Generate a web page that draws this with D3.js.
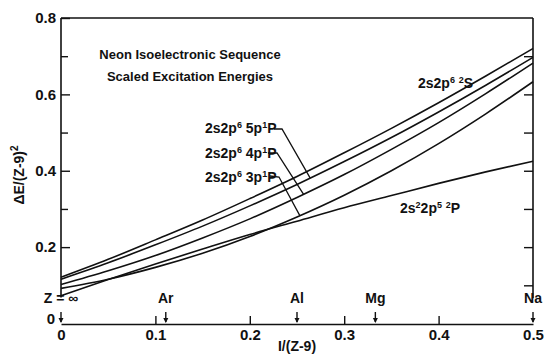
<!DOCTYPE html>
<html><head><meta charset="utf-8">
<script src="https://cdn.jsdelivr.net/npm/d3@7"></script>
<style>
body{margin:0;background:#fff}
text{font-family:"Liberation Sans","Arial",sans-serif;font-weight:bold;fill:#111}
</style></head>
<body><svg id="c" width="544" height="362"></svg>
<script>
// ---- data ----
const xGrid = [0, 0.05, 0.1, 0.15, 0.2, 0.25, 0.3, 0.35, 0.4, 0.45, 0.5];
const s2S = [0.121, 0.168, 0.219, 0.271, 0.327, 0.385, 0.447, 0.511, 0.578, 0.648, 0.720];
const p5  = [0.116, 0.159, 0.206, 0.255, 0.308, 0.364, 0.424, 0.487, 0.554, 0.624, 0.697];
const p4  = [0.102, 0.138, 0.178, 0.224, 0.274, 0.330, 0.390, 0.456, 0.526, 0.602, 0.682];
const p3  = [0.092, 0.116, 0.147, 0.184, 0.228, 0.279, 0.336, 0.400, 0.471, 0.549, 0.633];
const P2  = [0.073, 0.115, 0.156, 0.195, 0.233, 0.268, 0.303, 0.335, 0.367, 0.397, 0.425];
const xTickValues = [0, 0.1, 0.2, 0.3, 0.4, 0.5];
const yMajor = [0.2, 0.4, 0.6, 0.8];
const yMinor = [0.3, 0.5, 0.7];
const yRightTicks = [0.1, 0.2, 0.3, 0.4, 0.5, 0.6, 0.7];
const elements = ["Z = \u221E", "Ar", "Al", "Mg", "Na"];
const elementX = [0, 0.111, 0.25, 0.333, 0.5];

const svg = d3.select("#c");
const x = d3.scaleLinear([0, 0.5], [61, 533]);
const y = d3.scaleLinear([0, 0.8], [323.5, 18]);
const axisY = 324;

// frame lines
svg.append("line").attr("x1", x(0)).attr("x2", x(0.5)).attr("y1", y(0.8)).attr("y2", y(0.8)).attr("stroke", "#111").attr("stroke-width", 1.6);
svg.append("line").attr("x1", x(0)).attr("x2", x(0)).attr("y1", y(0.8)).attr("y2", y(0.068)).attr("stroke", "#111").attr("stroke-width", 1.6);
svg.append("line").attr("x1", x(0.5)).attr("x2", x(0.5)).attr("y1", y(0.8)).attr("y2", y(0.066)).attr("stroke", "#111").attr("stroke-width", 1.6);

// left axis major (labels) ticks inward
const gL = svg.append("g").attr("transform", `translate(${x(0)},0)`)
  .call(d3.axisLeft(y).tickValues(yMajor).tickSizeInner(-9).tickSizeOuter(0).tickPadding(5).tickFormat(d3.format(".1f")));
const gLm = svg.append("g").attr("transform", `translate(${x(0)},0)`)
  .call(d3.axisLeft(y).tickValues(yMinor).tickSizeInner(-7).tickSizeOuter(0).tickFormat(""));
const gR = svg.append("g").attr("transform", `translate(${x(0.5)},0)`)
  .call(d3.axisRight(y).tickValues(yRightTicks).tickSizeInner(-9).tickSizeOuter(0).tickFormat(""));
[gL, gLm, gR].forEach(g => {
  g.select(".domain").remove();
  g.selectAll(".tick line").attr("stroke", "#111").attr("stroke-width", 1.4);
  g.selectAll("text").style("font-size", "15px").style("font-family", "Liberation Sans, Arial, sans-serif").style("font-weight", "bold").attr("fill", "#111");
});

// bottom axis
const gB = svg.append("g").attr("transform", `translate(0,${axisY})`)
  .call(d3.axisBottom(x).tickValues(xTickValues).tickSizeInner(-8).tickSizeOuter(0).tickPadding(5)
    .tickFormat(d => d === 0 ? "0" : d3.format(".1f")(d)));
gB.select(".domain").attr("stroke", "#111").attr("stroke-width", 1.6);
gB.selectAll(".tick line").attr("stroke", "#111").attr("stroke-width", 1.4);
gB.selectAll(".tick").filter(d => d === 0 || d === 0.5).select("line").remove();
gB.selectAll("text").style("font-size", "15px").style("font-family", "Liberation Sans, Arial, sans-serif").style("font-weight", "bold").attr("fill", "#111");

// y-zero label of broken axis
svg.append("text").attr("x", x(0) - 6).attr("y", axisY - 0.5).attr("text-anchor", "end").style("font-size", "15px").text("0");

// element arrows
const ag = svg.append("g");
elements.forEach((e, i) => {
  const px = x(elementX[i]);
  ag.append("line").attr("x1", px).attr("x2", px).attr("y1", axisY - 12).attr("y2", axisY - 2).attr("stroke", "#111").attr("stroke-width", 1.4);
  ag.append("path").attr("d", `M${px - 2.5},${axisY - 6}L${px + 2.5},${axisY - 6}L${px},${axisY - 1}Z`).attr("fill", "#111");
  ag.append("text").attr("x", px).attr("y", axisY - 21).attr("text-anchor", "middle").style("font-size", "14px").text(e);
});

// axis titles
svg.append("text").attr("x", x(0.25)).attr("y", 351).attr("text-anchor", "middle").style("font-size", "14px").text("I/(Z-9)");
const yl = svg.append("text").attr("transform", "translate(24,175) rotate(-90)").attr("text-anchor", "middle").style("font-size", "14px");
yl.append("tspan").text("\u0394E/(Z-9)");
yl.append("tspan").attr("dy", -6).style("font-size", "10px").text("2");

// curves
const line = d3.line().x((d, i) => x(xGrid[i])).y(d => y(d)).curve(d3.curveMonotoneX);
[s2S, p5, p4, p3, P2].forEach(s => {
  svg.append("path").attr("d", line(s)).attr("fill", "none").attr("stroke", "#111").attr("stroke-width", 1.6);
});

// title
svg.append("text").attr("x", 190).attr("y", 59).attr("text-anchor", "middle").style("font-size", "13px").text("Neon Isoelectronic Sequence");
svg.append("text").attr("x", 190).attr("y", 81).attr("text-anchor", "middle").style("font-size", "13px").text("Scaled Excitation Energies");

// series labels with superscripts
function label(xp, yp, parts) {
  const t = svg.append("text").attr("x", xp).attr("y", yp).style("font-size", "14px");
  parts.forEach(p => {
    if (p.sup) t.append("tspan").attr("dy", -5).style("font-size", "9px").text(p.t);
    else t.append("tspan").attr("dy", p.after ? 5 : 0).text(p.t);
  });
  return t;
}
label(418, 88, [{t: "2s2p"}, {t: "6", sup: 1}, {t: " ", after: 1}, {t: "2", sup: 1}, {t: "S", after: 1}]);
label(400, 213, [{t: "2s"}, {t: "2", sup: 1}, {t: "2p", after: 1}, {t: "5", sup: 1}, {t: " ", after: 1}, {t: "2", sup: 1}, {t: "P", after: 1}]);
label(205, 133, [{t: "2s2p"}, {t: "6", sup: 1}, {t: " 5p", after: 1}, {t: "1", sup: 1}, {t: "P", after: 1}]);
label(205, 158, [{t: "2s2p"}, {t: "6", sup: 1}, {t: " 4p", after: 1}, {t: "1", sup: 1}, {t: "P", after: 1}]);
label(205, 182, [{t: "2s2p"}, {t: "6", sup: 1}, {t: " 3p", after: 1}, {t: "1", sup: 1}, {t: "P", after: 1}]);

// leader lines
const leaders = [
  [[274, 129], [282, 129], [0.264, p5]],
  [[268, 153], [277, 153], [0.257, p4]],
  [[270, 176], [279, 177], [0.253, p3]]
];
leaders.forEach(([a, b, c]) => {
  const vx = c[0];
  const vy = d3.scaleLinear(xGrid, c[1])(vx);
  svg.append("path").attr("d", `M${a[0]},${a[1]}L${b[0]},${b[1]}L${x(vx)},${y(vy)}`).attr("fill", "none").attr("stroke", "#111").attr("stroke-width", 1.3);
});
</script></body></html>
